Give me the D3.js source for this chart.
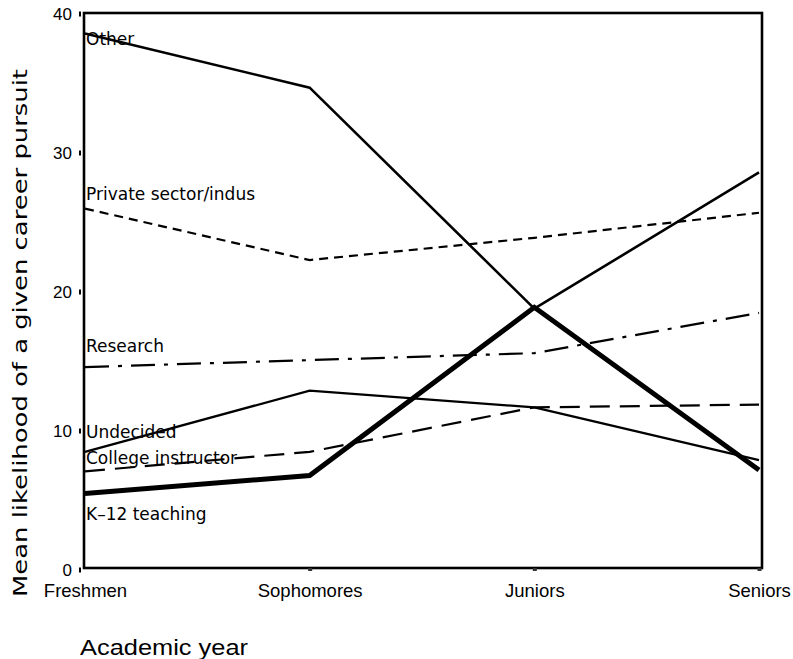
<!DOCTYPE html>
<html><head><meta charset="utf-8">
<script src="https://cdn.jsdelivr.net/npm/d3@7"></script>
<style>body{margin:0;background:#fff}svg{display:block}</style>
</head><body>
<svg id="c" width="793" height="659"></svg>
<script>
const years = ["Freshmen","Sophomores","Juniors","Seniors"];
const yTicks = [0,10,20,30,40];
const seriesNames = ["Other","Private sector/indus","Research","Undecided","College instructor","K\u201312 teaching"];
const otherVals = [38.6,34.7,18.8,28.6];
const privateVals = [26.0,22.3,23.9,25.7];
const researchVals = [14.6,15.1,15.6,18.5];
const undecidedVals = [8.5,12.9,11.7,7.9];
const collegeVals = [7.1,8.5,11.7,11.9];
const k12Vals = [5.5,6.8,18.9,7.2];

const svg = d3.select("#c");
const x = d3.scalePoint().domain(years).range([85,759]);
const y = d3.scaleLinear().domain([0,40]).range([570,14]);

// frame
svg.append("rect").attr("x",84).attr("y",13).attr("width",678).attr("height",555)
  .attr("fill","none").attr("stroke","#000").attr("stroke-width",2.6);

// y ticks
const yAxis = d3.axisLeft(y).tickValues(yTicks).tickSize(0).tickPadding(8);
const gy = svg.append("g").attr("transform","translate(80,0)").call(yAxis);
gy.select(".domain").remove();
gy.selectAll("text").attr("font-family","'Liberation Sans',Arial,sans-serif").attr("font-size",17).attr("fill","#000").attr("dy","0.3em");
gy.selectAll(".tick").append("rect").attr("x",-1).attr("y",-3).attr("width",2).attr("height",5).attr("fill","#000");

// x ticks
const xAxis = d3.axisBottom(x).tickSize(0).tickPadding(14);
const gx = svg.append("g").attr("transform","translate(0,570)").call(xAxis);
gx.select(".domain").remove();
gx.selectAll("text").attr("font-family","'Liberation Sans',Arial,sans-serif").attr("font-size",18.5).attr("fill","#000");
gx.selectAll(".tick").filter((d,i)=>i>0).append("rect").attr("x",-2).attr("y",-2).attr("width",4).attr("height",3).attr("fill","#333");

// axis titles
svg.append("text").attr("x",80).attr("y",655).text("Academic year")
  .attr("font-family","'Liberation Sans',Arial,sans-serif").attr("font-size",22).attr("fill","#000")
  .attr("textLength",168).attr("lengthAdjust","spacingAndGlyphs");
svg.append("text").attr("transform","translate(27,333) rotate(-90)").attr("text-anchor","middle")
  .text("Mean likelihood of a given career pursuit")
  .attr("font-family","'DejaVu Sans',sans-serif").attr("font-size",20).attr("fill","#000")
  .attr("textLength",528).attr("lengthAdjust","spacingAndGlyphs");

const series = [
  {name:seriesNames[0], vals:otherVals, w:2.6, dash:null, ly:45},
  {name:seriesNames[1], vals:privateVals, w:2.2, dash:"9,6", ly:200},
  {name:seriesNames[2], vals:researchVals, w:2.2, dash:"24,9,4,9", ly:352},
  {name:seriesNames[3], vals:undecidedVals, w:2.3, dash:null, ly:438},
  {name:seriesNames[4], vals:collegeVals, w:2.2, dash:"20,10", ly:464},
  {name:seriesNames[5], vals:k12Vals, w:5, dash:null, ly:520}
];
const line = d3.line().x((d,i)=>x(years[i])).y(d=>y(d));
series.forEach(s=>{
  svg.append("path").datum(s.vals).attr("d",line).attr("fill","none")
    .attr("stroke","#000").attr("stroke-width",s.w).attr("stroke-linejoin","miter")
    .attr("stroke-dasharray",s.dash);
});
series.forEach(s=>{
  svg.append("text").attr("x",86).attr("y",s.ly).text(s.name)
    .attr("font-family","'DejaVu Sans',sans-serif").attr("font-size",17).attr("fill","#000")
    .style("white-space","pre");
});
</script>
</body></html>
